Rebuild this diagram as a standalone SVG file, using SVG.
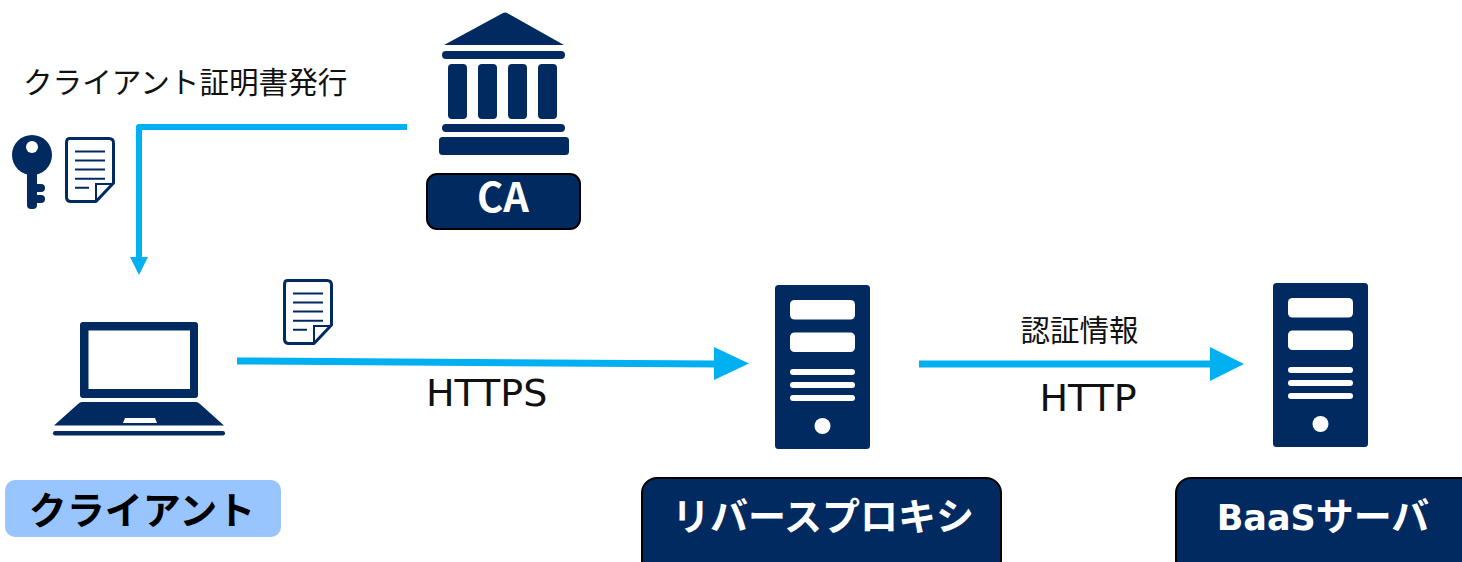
<svg xmlns="http://www.w3.org/2000/svg" xmlns:xlink="http://www.w3.org/1999/xlink" width="1462" height="562" viewBox="0 0 1462 562">
<style>
.navy{fill:#002a60}
.wht{fill:#fff}
.box{fill:#002a60;stroke:#000;stroke-width:2}
.link{fill:none;stroke:#00b0f0;stroke-linejoin:round}
.head{fill:#00b0f0}
.t{font-family:"Noto Sans CJK JP","DejaVu Sans",sans-serif;fill:#111}
.lat{font-family:"DejaVu Sans","Noto Sans CJK JP",sans-serif;fill:#111;font-size:38px}
.b{font-family:"Noto Sans CJK JP","DejaVu Sans",sans-serif;font-weight:700;font-size:38px;fill:#fff;text-anchor:middle}
.docl{stroke:#002a60;stroke-width:2;fill:none}
</style>
<defs>
<g id="doc">
<path d="M4 1.500H44Q48.500 1.500 48.500 6V46L31 64.500H6Q1.500 64.500 1.500 60V6Q1.500 1.500 4 1.500Z" fill="#fff" stroke="#002a60" stroke-width="3" stroke-linejoin="round"/>
<path class="docl" d="M10 14.500H40M10 23.500H40M10 32.500H40M10 41.700H40M10 50.700H24"/>
<path class="docl" d="M31 63V47H48"/>
</g>
<g id="srv">
<rect class="navy" x="0" y="0" width="95" height="164" rx="3.500"/>
<rect class="wht" x="15" y="15" width="65" height="19.500" rx="4.500"/>
<rect class="wht" x="15" y="47.500" width="65" height="19.500" rx="4.500"/>
<rect class="wht" x="15" y="84" width="65" height="6" rx="3"/>
<rect class="wht" x="15" y="97" width="65" height="6" rx="3"/>
<rect class="wht" x="15" y="110" width="65" height="6" rx="3"/>
<circle class="wht" cx="47.500" cy="141" r="8"/>
</g>
</defs>

<g id="connectors">
<path class="link" stroke-width="6" d="M407 127H139V258"/>
<polygon class="head" points="130,257 148,257 139,275"/>
<path class="link" stroke-width="7" d="M237 361L716 364"/>
<polygon class="head" points="714,347 749,363.500 714,380"/>
<path class="link" stroke-width="7" d="M919 364H1212"/>
<polygon class="head" points="1210,347 1244,364 1210,381"/>
</g>

<g id="label-issue"><text class="t" x="23" y="93" font-size="29.600">クライアント証明書発行</text></g>
<g id="label-auth"><text class="t" x="1020.500" y="341" font-size="29.500">認証情報</text></g>
<g id="label-https"><text class="lat" x="426" y="406">HTTPS</text></g>
<g id="label-http"><text class="lat" x="1039.500" y="411">HTTP</text></g>

<g id="key">
<circle class="navy" cx="32" cy="155" r="20"/>
<circle class="wht" cx="32" cy="147" r="6"/>
<rect class="navy" x="27" y="170" width="10" height="39" rx="4"/>
<rect class="navy" x="30" y="184" width="15" height="8" rx="4"/>
<rect class="navy" x="30" y="195" width="15" height="8" rx="4"/>
</g>
<g id="doc-issued"><use href="#doc" x="65" y="137"/></g>
<g id="doc-sent"><use href="#doc" x="283" y="279"/></g>

<g id="ca">
<path class="navy" d="M444 45L503 13Q505 12 507 13L564 45Z"/>
<rect class="navy" x="442" y="51" width="123" height="8" rx="4"/>
<rect class="navy" x="448" y="64" width="19" height="55" rx="4"/>
<rect class="navy" x="478" y="64" width="19" height="55" rx="4"/>
<rect class="navy" x="508" y="64" width="19" height="55" rx="4"/>
<rect class="navy" x="538" y="64" width="19" height="55" rx="4"/>
<rect class="navy" x="442" y="124" width="123" height="8" rx="4"/>
<rect class="navy" x="439" y="137" width="130" height="18" rx="3.500"/>
<rect class="box" x="427" y="174" width="153" height="55" rx="10"/>
<text class="b" x="503" y="212" style="font-size:40px">CA</text>
</g>

<g id="client">
<path class="navy" fill-rule="evenodd" d="M83 322H195Q198 322 198 325V395Q198 398 195 398H83Q80 398 80 395V325Q80 322 83 322ZM88.500 330.500V389H190V330.500Z"/>
<path class="navy" fill-rule="evenodd" d="M82 402H196Q198 402 200 404L224 425.500H54L78 404Q80 402 82 402ZM125 418L123 423H157L155 418Z"/>
<rect class="navy" x="53" y="431" width="172" height="4.500" rx="2.200"/>
<rect x="5" y="480" width="276" height="57" rx="10" fill="#99c5ff"/>
<text class="b" x="142" y="524" style="fill:#000">クライアント</text>
</g>

<g id="proxy">
<use href="#srv" x="775" y="285"/>
<rect class="box" x="642" y="478" width="359" height="110" rx="15"/>
<text class="b" x="823" y="530">リバースプロキシ</text>
</g>

<g id="baas">
<use href="#srv" x="1273" y="283"/>
<rect class="box" x="1176" y="478" width="310" height="110" rx="15"/>
<text class="b" x="1323" y="530"><tspan style="font-family:'DejaVu Sans',sans-serif;font-size:35px">BaaS</tspan>サーバ</text>
</g>
</svg>
